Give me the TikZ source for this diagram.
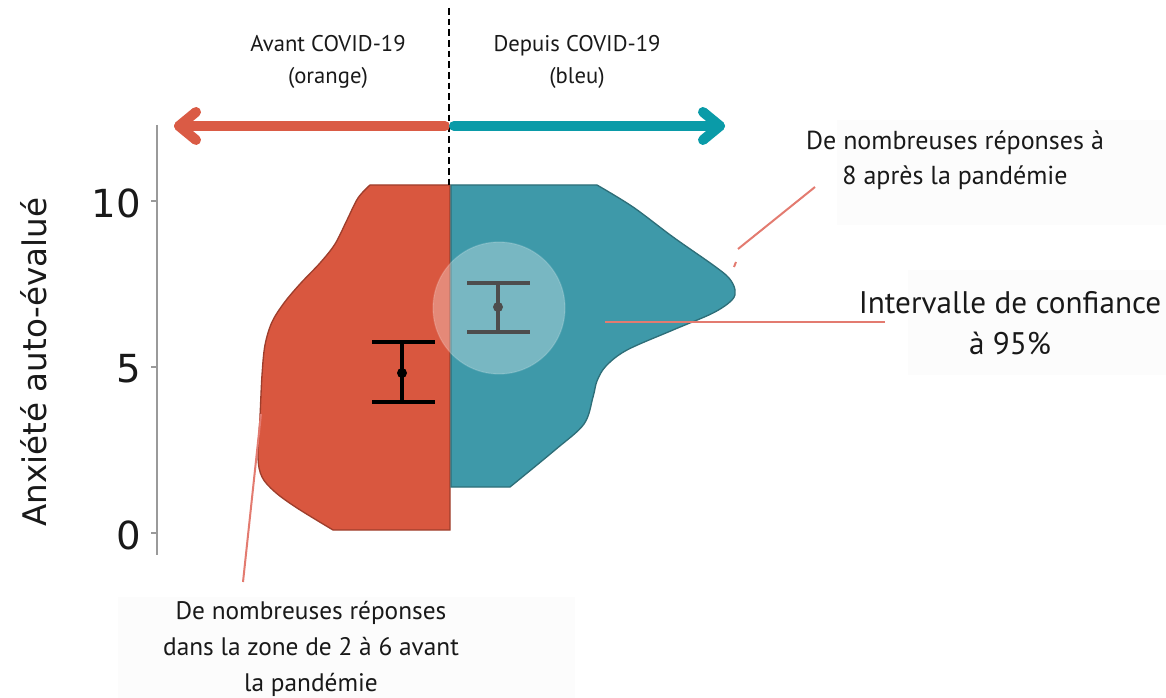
\documentclass[tikz,border=0pt]{standalone}
\usepackage{fontspec}
\setmainfont{PT Sans}
\newfontfamily\dejavu{DejaVu Sans}
\definecolor{orarrow}{HTML}{DA5B45}
\definecolor{tearrow}{HTML}{0A9BA8}
\definecolor{orviol}{HTML}{D9573F}
\definecolor{orline}{HTML}{9E3E2C}
\definecolor{teviol}{HTML}{3E99A9}
\definecolor{teline}{HTML}{2E6E78}
\definecolor{salmon}{HTML}{E37B70}
\definecolor{axisgray}{HTML}{9A9A9A}
\definecolor{boxgray}{HTML}{FCFCFC}
\tikzset{
  bigarrow/.style={line width=7.5pt, line cap=round, line join=round},
  annot/.style={salmon, line width=1.5pt},
  errbar/.style={line width=2.3pt},
  lbl/.style={align=center, inner sep=0pt, text=black!90},
  tick/.style={font=\dejavu\fontsize{29}{29}\selectfont, anchor=east, inner sep=0pt, text=black!90},
}
\begin{document}
\begin{tikzpicture}[x=0.75pt,y=-0.75pt]
\useasboundingbox (0,0) rectangle (1166,698);
% faint paste backgrounds
\fill[boxgray] (118,597) rectangle (575,698);
\fill[boxgray] (837,120) rectangle (1166,225);
\fill[boxgray] (908,270) rectangle (1166,375);

% axis
\draw[axisgray, line width=1.5pt] (157,125) -- (157,555);
\foreach \yy in {201,367,533} \draw[axisgray, line width=1.5pt] (151,\yy) -- (157,\yy);
\node[tick] (t10) at (141,203) {10};
\node[tick] (t5) at (141,369) {5};
\node[tick] (t0) at (141,535) {0};
\node[rotate=90, inner sep=0pt, text=black!90, font=\dejavu\fontsize{24.4}{24.4}\selectfont] (ylab) at (34,362) {Anxiété auto-évalué};

% orange violin
\path[fill=orviol, draw=orline, line width=1pt]
  (450,530) -- (450,185) -- plot[smooth, tension=0.55] coordinates {(370,185) (358,198) (347,220) (335,244) (320,263) (300,284) (284,303) (272,322) (265,345) (262,375) (260,417) (258,457) (262,477) (275,492) (297,508) (333,530)}
  -- cycle;
% teal violin
\path[fill=teviol, draw=teline, line width=1pt]
  (451,487) -- (451,185) -- plot[smooth, tension=0.55] coordinates {(597,185) (633,207) (673,237) (713,265) (729,278) (735,290) (732,300) (713,313) (673,330) (627,350) (606,366) (597,381) (593,397) (584,424) (555,450) (510,487)}
  -- cycle;

% error bars
\draw[errbar, black] (402,342) -- (402,402) (372,342) -- (435,342) (372,402) -- (435,402);
\fill[black] (402,373) circle[radius=5];
\draw[errbar, black] (498,283) -- (498,332) (467,283) -- (530,283) (467,332) -- (530,332);
\fill[black] (498,307) circle[radius=5];
\fill[white, opacity=0.3] (499,308) circle[radius=66];
\draw[white, opacity=0.15, line width=1pt] (499,308) circle[radius=66];

% dashed divider
\coordinate (dtop) at (449,8);
\coordinate (dbot) at (449,185);
\draw[black, line width=1.2pt, dash pattern=on 5pt off 3pt] (dtop) -- (dbot);

% big arrows
\coordinate (otip) at (179,126);
\coordinate (ttip) at (720,126);
\draw[bigarrow, orarrow] (445,126) -- (otip);
\draw[bigarrow, orarrow] (196,112) -- (otip) -- (196,140);
\draw[bigarrow, tearrow] (454,126) -- (ttip);
\draw[bigarrow, tearrow] (703,112) -- (ttip) -- (703,140);

% labels
\node[lbl, font=\fontsize{17}{24}\selectfont] (avant) at (328,62) {Avant COVID-19\\(orange)};
\node[lbl, font=\fontsize{17}{24}\selectfont] (depuis) at (577,62) {Depuis COVID-19\\(bleu)};
\node[lbl, font=\fontsize{19.5}{26}\selectfont] (huit) at (955,160) {De nombreuses réponses à\\8 après la pandémie};
\node[lbl, font=\fontsize{23.4}{31}\selectfont] (ic) at (1010,323) {Intervalle de confiance\\à 95\%};
\node[lbl, font=\fontsize{19}{27}\selectfont] (zone) at (311,649) {De nombreuses réponses\\dans la zone de 2 à 6 avant\\la pandémie};

% annotation lines
\coordinate (a1s) at (243,582);
\coordinate (a1e) at (261,414);
\draw[annot] (a1s) -- (a1e);
\coordinate (a2s) at (815,187);
\coordinate (a2e) at (738,249);
\draw[annot] (a2s) -- (a2e);
\draw[annot] (736,262) -- (734,267);
\coordinate (a3s) at (885,322);
\coordinate (a3e) at (605,322);
\draw[annot] (a3s) -- (a3e);
\end{tikzpicture}
\end{document}
